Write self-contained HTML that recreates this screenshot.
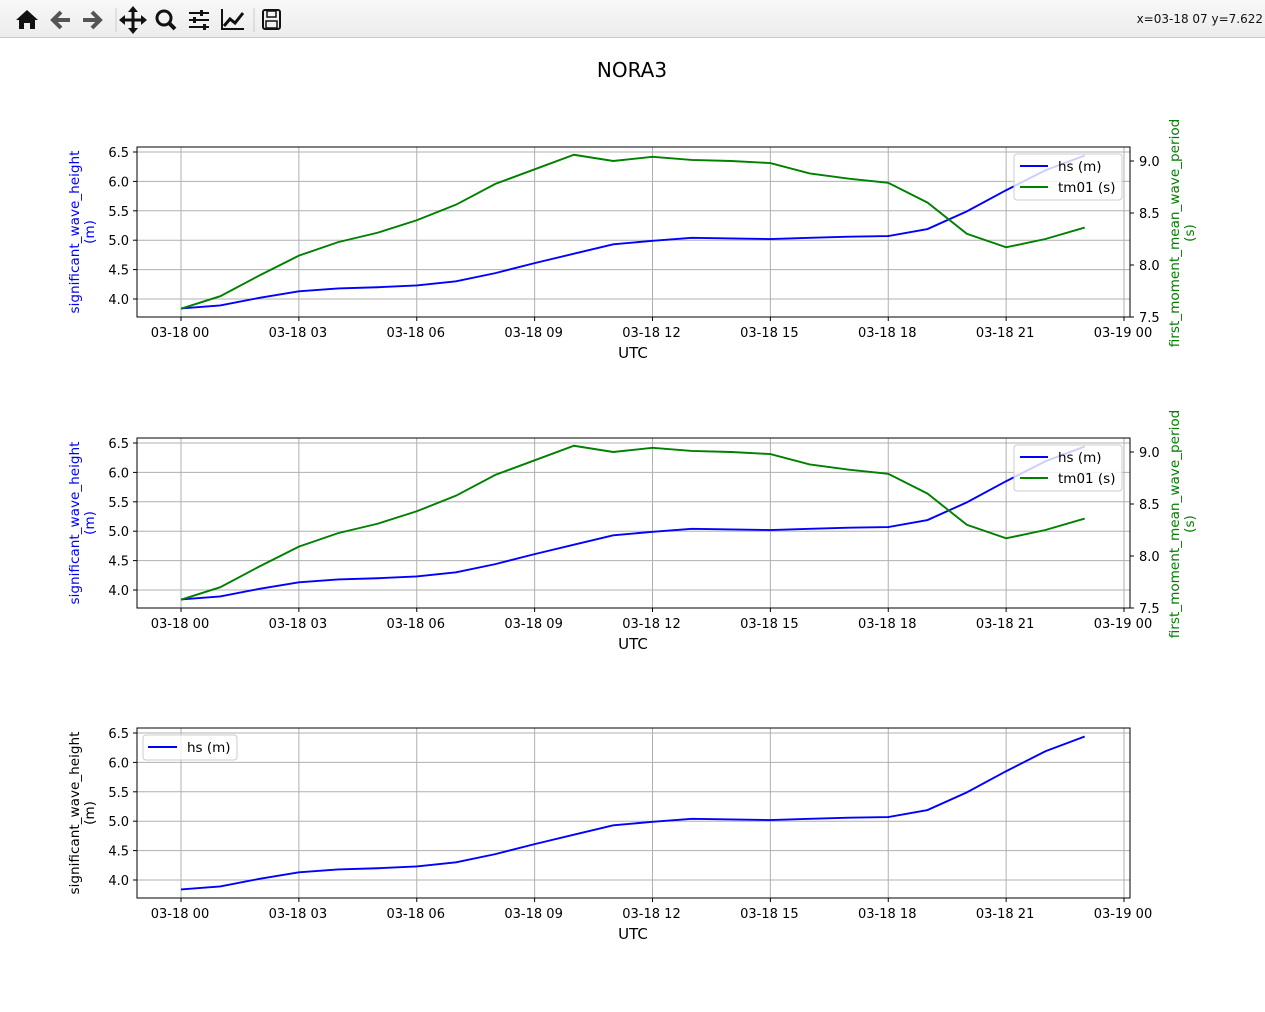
<!DOCTYPE html>
<html><head><meta charset="utf-8"><style>
body{margin:0;width:1265px;height:1012px;overflow:hidden;background:#fff;font-family:"DejaVu Sans","Liberation Sans",sans-serif;}
#toolbar{position:absolute;left:0;top:0;width:1265px;height:37px;background:linear-gradient(#f8f8f8,#ececec);border-bottom:1px solid #c8c8c8;}
#coords{position:absolute;right:2px;top:12px;font-size:12px;color:#111;}
svg{position:absolute;left:0;top:0;}
</style></head><body>
<div id="toolbar">
<svg width="300" height="37" style="position:absolute;left:0;top:0">
<g><polygon points="16,20 27,10 38,20 35,20 35,29 30,29 30,23 24,23 24,29 19,29 19,20" fill="#111"/></g>
<g><path d="M70,20 H54 M61,12 L53,20 L61,28" stroke="#555" stroke-width="4" fill="none"/></g>
<g><path d="M83,20 H99 M92,12 L100,20 L92,28" stroke="#555" stroke-width="4" fill="none"/></g>
<line x1="116" y1="8" x2="116" y2="32" stroke="#ccc"/>
<g><path d="M133,8 V32 M121,20 H145" stroke="#111" stroke-width="3"/><polygon points="133,6 128,12 138,12" fill="#111"/><polygon points="133,34 128,28 138,28" fill="#111"/><polygon points="119,20 125,15 125,25" fill="#111"/><polygon points="147,20 141,15 141,25" fill="#111"/></g>
<g><circle cx="164" cy="18" r="7" stroke="#111" stroke-width="3" fill="none"/><line x1="169" y1="23" x2="175" y2="29" stroke="#111" stroke-width="4"/></g>
<g><path d="M189,13 H209 M189,20 H209 M189,27 H209" stroke="#111" stroke-width="2"/><rect x="200" y="10" width="3" height="6" fill="#111"/><rect x="193" y="17" width="3" height="6" fill="#111"/><rect x="203" y="24" width="3" height="6" fill="#111"/></g>
<g><path d="M222,9 V29 H244" stroke="#111" stroke-width="2" fill="none"/><path d="M224,26 L230,19 L235,23 L243,13" stroke="#111" stroke-width="3" fill="none"/></g>
<line x1="254" y1="8" x2="254" y2="32" stroke="#ccc"/>
<g><rect x="263" y="10" width="17" height="19" rx="2" stroke="#111" stroke-width="2" fill="none"/><rect x="267" y="11" width="9" height="6" stroke="#111" stroke-width="1.5" fill="none"/><rect x="266" y="21" width="11" height="7" stroke="#111" stroke-width="1.5" fill="none"/></g>
</svg>
<div id="coords">x=03-18 07 y=7.622</div>
</div>
<svg id="chart" width="1265" height="1012" style="top:0">
<text x="632" y="77" font-size="20" text-anchor="middle">NORA3</text>
</svg>
<script>
const hours=[0,1,2,3,4,5,6,7,8,9,10,11,12,13,14,15,16,17,18,19,20,21,22,23];
const hsValues=[3.84,3.89,4.02,4.13,4.18,4.20,4.23,4.30,4.44,4.61,4.77,4.93,4.99,5.04,5.03,5.02,5.04,5.06,5.07,5.19,5.49,5.85,6.19,6.44];
const tm01Values=[7.58,7.70,7.90,8.09,8.22,8.31,8.43,8.58,8.78,8.92,9.06,9.00,9.04,9.01,9.00,8.98,8.88,8.83,8.79,8.60,8.30,8.17,8.25,8.36];
const xTickHours=[0,3,6,9,12,15,18,21,24];
const xTickLabels=["03-18 00","03-18 03","03-18 06","03-18 09","03-18 12","03-18 15","03-18 18","03-18 21","03-19 00"];
const leftTicks=[4.0,4.5,5.0,5.5,6.0,6.5];
const rightTicks=[7.5,8.0,8.5,9.0];

const svg=document.getElementById('chart');
const NS='http://www.w3.org/2000/svg';
function mk(tag,attrs,parent){const e=document.createElementNS(NS,tag);for(const k in attrs)e.setAttribute(k,attrs[k]);(parent||svg).appendChild(e);return e;}
const L=137,R=1130,H=170;
const xs=h=>181+(1124-181)*h/24;

function panel(top,idx,twin){
  const g=mk('g',{});
  
  
  const yL=v=>top+5+(6.5-v)*58.8;
  const yR=v=>top+170-(v-7.5)*104;
  xTickHours.forEach((h,i)=>{const ln=mk('line',{x1:xs(h),x2:xs(h),y1:top,y2:top+H,stroke:'#b0b0b0','stroke-width':1},g);
    
    mk('line',{x1:xs(h),x2:xs(h),y1:top+H,y2:top+H+4,stroke:'#000'},g);
    const tx=mk('text',{x:xs(h)-1,y:top+H+20,'font-size':13,'text-anchor':'middle'},g);tx.textContent=xTickLabels[i];
    });
  leftTicks.forEach(v=>{const ln=mk('line',{x1:L,x2:R,y1:yL(v),y2:yL(v),stroke:'#b0b0b0'},g);
    
    mk('line',{x1:L-4,x2:L,y1:yL(v),y2:yL(v),stroke:'#000'},g);
    const tx=mk('text',{x:L-8,y:yL(v)+5,'font-size':13,'text-anchor':'end'},g);tx.textContent=v.toFixed(1);
    });
  const col=twin?'blue':'#000';
  const yt=mk('text',{transform:`translate(79,${top+85}) rotate(-90)`,'font-size':13.6,'text-anchor':'middle',fill:col},g);
  
  mk('tspan',{x:0,dy:0},yt).textContent='significant_wave_height';
  mk('tspan',{x:0,dy:15},yt).textContent='(m)';
  const xt=mk('text',{x:633,y:top+H+41,'font-size':15,'text-anchor':'middle'},g);xt.textContent='UTC';
  
  if(twin){
    rightTicks.forEach(v=>{mk('line',{x1:R,x2:R+4,y1:yR(v),y2:yR(v),stroke:'#000'},g);
      const tx=mk('text',{x:R+9,y:yR(v)+5,'font-size':13},g);tx.textContent=v.toFixed(1);
      });
    const t2=mk('text',{transform:`translate(1179,${top+86}) rotate(-90)`,'font-size':13.6,'text-anchor':'middle',fill:'green'},g);
    
    mk('tspan',{x:0,dy:0},t2).textContent='first_moment_mean_wave_period';
    mk('tspan',{x:0,dy:15},t2).textContent='(s)';
  }
  const p1=mk('polyline',{points:hours.map((h,i)=>xs(h)+','+yL(hsValues[i])).join(' '),fill:'none',stroke:'blue','stroke-width':1.9},g);
  
  if(twin){const p2=mk('polyline',{points:hours.map((h,i)=>xs(h)+','+yR(tm01Values[i])).join(' '),fill:'none',stroke:'green','stroke-width':1.9},g);
    }
  mk('rect',{x:L,y:top,width:R-L,height:H,fill:'none',stroke:'#000','stroke-width':1},g);
  const lg=mk('g',{},g);
  
  if(twin){
    mk('rect',{x:1014,y:top+7,width:108,height:46,rx:3,fill:'rgba(255,255,255,0.8)',stroke:'#ccc'},lg);
    mk('line',{x1:1020,x2:1048,y1:top+19,y2:top+19,stroke:'blue','stroke-width':1.9},lg);
    mk('text',{x:1058,y:top+24,'font-size':13.5},lg).textContent='hs (m)';
    mk('line',{x1:1020,x2:1048,y1:top+40,y2:top+40,stroke:'green','stroke-width':1.9},lg);
    mk('text',{x:1058,y:top+45,'font-size':13.5},lg).textContent='tm01 (s)';
  } else {
    mk('rect',{x:143,y:top+7,width:94,height:25,rx:3,fill:'rgba(255,255,255,0.8)',stroke:'#ccc'},lg);
    mk('line',{x1:148,x2:177,y1:top+19,y2:top+19,stroke:'blue','stroke-width':1.9},lg);
    mk('text',{x:187,y:top+24,'font-size':13.5},lg).textContent='hs (m)';
  }
}
panel(147,1,true);
panel(438,2,true);
panel(728,3,false);
</script>
</body></html>
